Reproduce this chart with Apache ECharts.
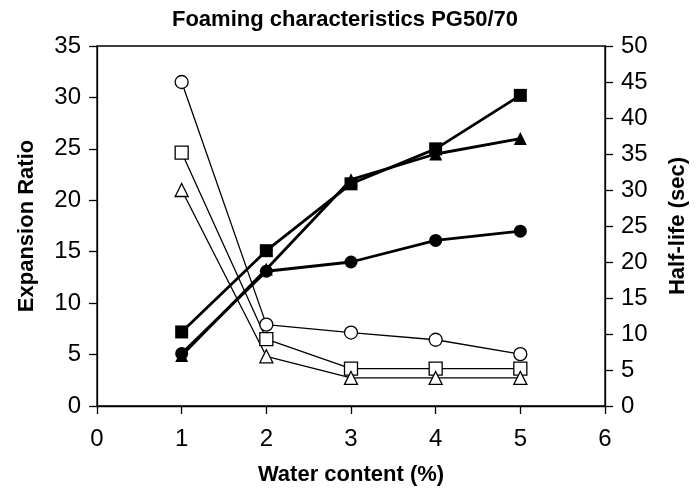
<!DOCTYPE html>
<html>
<head>
<meta charset="utf-8">
<script src="https://cdn.jsdelivr.net/npm/echarts@6/dist/echarts.min.js"></script>
<style>
  html, body { margin: 0; padding: 0; background: #fff; }
  #chart { width: 700px; height: 495px; }
</style>
</head>
<body>
<div id="chart"></div>
<script>
// water content (%)
const water = [1, 2, 3, 4, 5]

// expansion ratio, left axis (filled markers)
const erSquare = [7.2, 15.1, 21.6, 25.0, 30.2]
const erCircle = [5.1, 13.1, 14.0, 16.1, 17.0]
const erTriangle = [4.9, 13.3, 22.0, 24.5, 26.0]

// half-life in sec, right axis (open markers)
const hlCircle = [45.0, 11.3, 10.2, 9.2, 7.2]
const hlSquare = [35.2, 9.3, 5.2, 5.2, 5.2]
const hlTriangle = [30.0, 6.9, 3.9, 3.9, 3.9]

const font = 'Liberation Sans, Arial, sans-serif'

function pairs(ys) {
  return water.map((x, i) => [x, ys[i]])
}

function filled(name, symbol, ys) {
  return {
    name: name,
    type: 'line',
    yAxisIndex: 0,
    data: pairs(ys),
    symbol: symbol,
    symbolSize: 13,
    lineStyle: { color: '#000', width: 2.8 },
    itemStyle: { color: '#000', borderColor: '#000', borderWidth: 0 },
    z: 3
  }
}

function open(name, symbol, ys) {
  return {
    name: name,
    type: 'line',
    yAxisIndex: 1,
    data: pairs(ys),
    symbol: symbol,
    symbolSize: 13,
    lineStyle: { color: '#000', width: 1.3 },
    itemStyle: { color: '#fff', borderColor: '#000', borderWidth: 1.3 },
    z: 2
  }
}

const yAxisBase = {
  type: 'value',
  axisLine: { show: true, lineStyle: { color: '#000', width: 1.3 } },
  axisTick: { show: true, length: 8, lineStyle: { color: '#000', width: 1.3 } },
  splitLine: { show: false },
  nameLocation: 'middle',
  nameTextStyle: { color: '#000', fontFamily: font, fontSize: 22, fontWeight: 'bold' },
  axisLabel: { color: '#000', fontFamily: font, fontSize: 24, margin: 16 }
}

const option = {
  animation: false,
  backgroundColor: '#fff',
  title: {
    text: 'Foaming characteristics PG50/70',
    left: 340,
    textAlign: 'center',
    top: 4,
    textStyle: { color: '#000', fontFamily: font, fontSize: 22, fontWeight: 'bold' }
  },
  grid: {
    left: 97, right: 95, top: 46, bottom: 89,
    show: true, borderColor: '#000', borderWidth: 1.3, backgroundColor: 'transparent'
  },
  xAxis: {
    type: 'value',
    min: 0, max: 6, interval: 1,
    name: 'Water content (%)',
    nameLocation: 'middle',
    nameGap: 58,
    nameTextStyle: { color: '#000', fontFamily: font, fontSize: 22, fontWeight: 'bold' },
    axisLine: { show: true, onZero: false, lineStyle: { color: '#000', width: 1.3 } },
    axisTick: { show: true, length: 8, lineStyle: { color: '#000', width: 1.3 } },
    axisLabel: { color: '#000', fontFamily: font, fontSize: 24, margin: 21 },
    splitLine: { show: false }
  },
  yAxis: [
    Object.assign({}, yAxisBase, {
      position: 'left', min: 0, max: 35, interval: 5,
      name: 'Expansion Ratio', nameGap: 59
    }),
    Object.assign({}, yAxisBase, {
      position: 'right', min: 0, max: 50, interval: 5,
      name: 'Half-life (sec)', nameGap: 62
    })
  ],
  series: [
    open('HL circle', 'circle', hlCircle),
    open('HL square', 'rect', hlSquare),
    open('HL triangle', 'triangle', hlTriangle),
    filled('ER triangle', 'triangle', erTriangle),
    filled('ER circle', 'circle', erCircle),
    filled('ER square', 'rect', erSquare)
  ]
}

const chart = echarts.init(document.getElementById('chart'))
chart.setOption(option)
</script>
</body>
</html>
